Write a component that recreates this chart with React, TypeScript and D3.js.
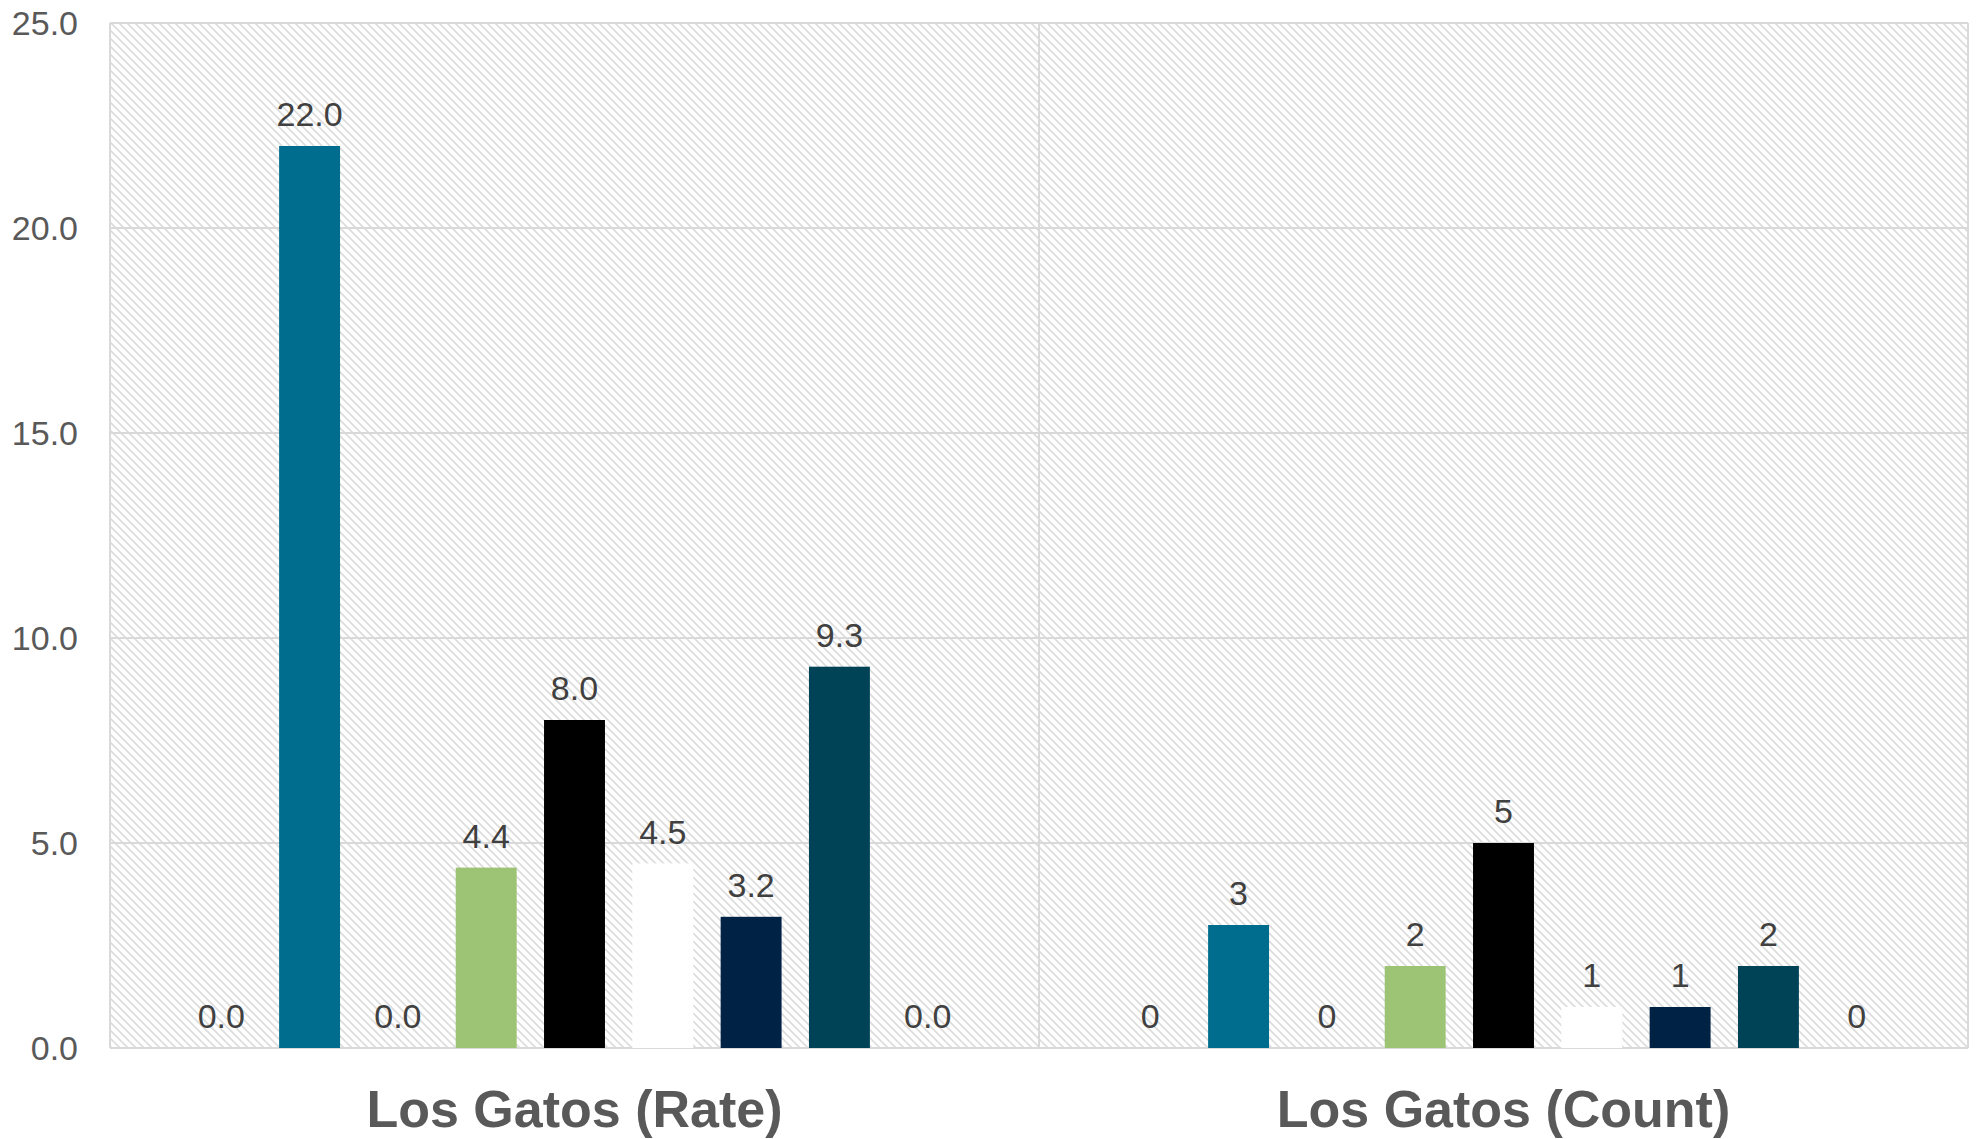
import React from "react";
import * as d3 from "d3";

const groups = ["Los Gatos (Rate)", "Los Gatos (Count)"];
const seriesKeys = ["s1", "s2", "s3", "s4", "s5", "s6", "s7", "s8", "s9"];
const seriesColors = ["#7f7f7f", "#006D8F", "#7f7f7f", "#9DC474", "#000000", "#FFFFFF", "#002245", "#004256", "#7f7f7f"];
const rateValues = [0, 22.0, 0, 4.4, 8.0, 4.5, 3.2, 9.3, 0];
const countValues = [0, 3, 0, 2, 5, 1, 1, 2, 0];
const yTicks = [0, 5, 10, 15, 20, 25];

const groupValues = [rateValues, countValues];
const groupFormats = [(v: number) => v.toFixed(1), (v: number) => d3.format("d")(v)];

export default function App() {
  const W = 1978, H = 1139;
  const left = 110, right = 1968, top = 23, bottom = 1048;

  const y = d3.scaleLinear().domain([0, 25]).range([bottom, top]);
  const x0 = d3.scaleBand<string>().domain(groups).range([left, right]).padding(0);
  const x1 = d3.scaleBand<string>()
    .domain(seriesKeys)
    .range([0, x0.bandwidth()])
    .paddingInner(0.31)
    .paddingOuter(0.915);

  const gridColor = "#d9d9d9";

  return (
    <svg width={W} height={H} style={{ position: "absolute", left: 0, top: 0, background: "#fff" }}>
      <defs>
        <pattern id="hatch" width="8" height="8" patternUnits="userSpaceOnUse">
          <rect width="8" height="8" fill="#ffffff" />
          <path d="M-2,-2 L10,10 M-2,6 L2,10 M6,-2 L10,2" stroke="#dcdcdc" strokeWidth="1.6" />
        </pattern>
      </defs>
      <rect x={left} y={top} width={right - left} height={bottom - top} fill="url(#hatch)" />
      {yTicks.map((t) => (
        <line key={"g" + t} x1={left} x2={right} y1={y(t)} y2={y(t)} stroke={gridColor} strokeWidth={2} />
      ))}
      {[left, x0(groups[1])!, right].map((xv, i) => (
        <line key={"v" + i} x1={xv} x2={xv} y1={top} y2={bottom} stroke={gridColor} strokeWidth={2} />
      ))}
      {yTicks.map((t) => (
        <text key={"t" + t} x={78} y={y(t)} dy="0.35em" textAnchor="end"
          fontFamily="Liberation Sans, Arial, sans-serif" fontSize={34} fill="#595959">
          {t.toFixed(1)}
        </text>
      ))}
      {groups.map((g, gi) => (
        <g key={g} transform={`translate(${x0(g)},0)`}>
          {seriesKeys.map((s, si) => {
            const v = groupValues[gi][si];
            const bx = x1(s)!;
            const bw = x1.bandwidth();
            return (
              <g key={s}>
                {v > 0 && (
                  <rect x={bx} y={y(v)} width={bw} height={bottom - y(v)} fill={seriesColors[si]} />
                )}
                <text x={bx + bw / 2} y={y(v) - 20} textAnchor="middle"
                  fontFamily="Liberation Sans, Arial, sans-serif" fontSize={34} fill="#404040">
                  {groupFormats[gi](v)}
                </text>
              </g>
            );
          })}
          <text x={x0.bandwidth() / 2} y={1127} textAnchor="middle"
            fontFamily="Liberation Sans, Arial, sans-serif" fontSize={52} fontWeight="bold" fill="#595959">
            {g}
          </text>
        </g>
      ))}
    </svg>
  );
}
